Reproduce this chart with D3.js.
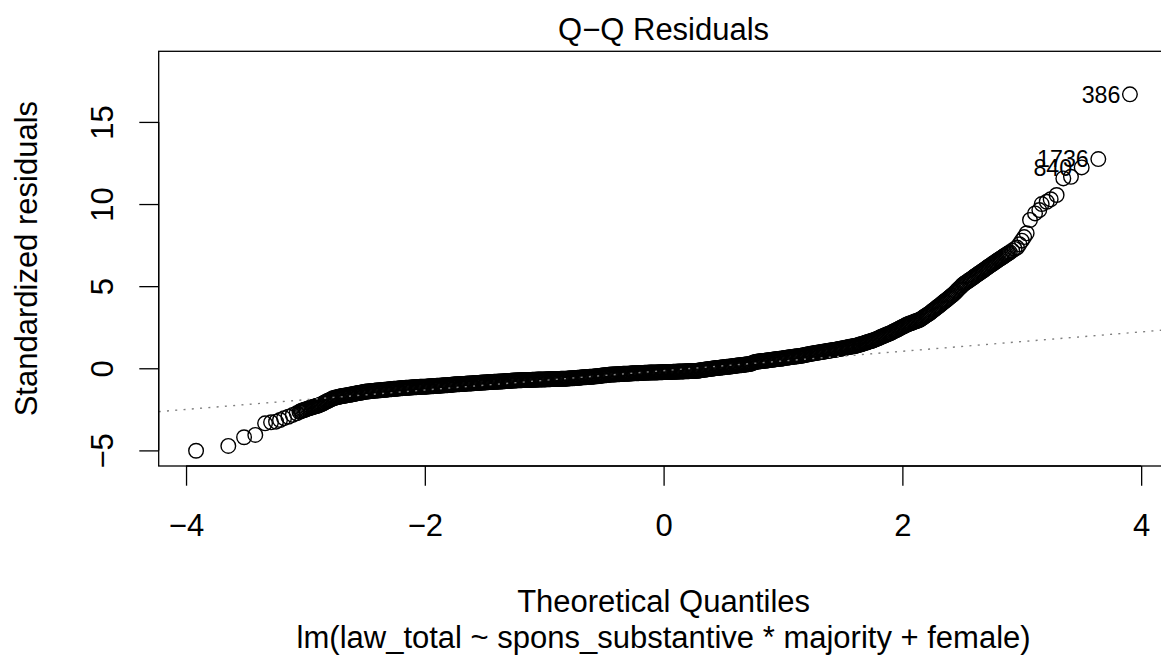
<!DOCTYPE html>
<html><head><meta charset="utf-8">
<script src="https://cdn.jsdelivr.net/npm/d3@7"></script>
<style>
body{margin:0;background:#fff}
svg{display:block;background:#fff}
text{font-family:"Liberation Sans",Arial,Helvetica,sans-serif;fill:#000}
</style>
</head><body>
<svg id="chart" width="1161" height="659"></svg>
<script>
// ---- data ----
const lowerTailX = [-3.916,-3.646,-3.514,-3.420,-3.338,-3.288,-3.246,-3.213,-3.179,-3.143,-3.106,-3.073];
const lowerTailY = [-5.02,-4.73,-4.20,-4.06,-3.35,-3.29,-3.25,-3.15,-3.04,-2.95,-2.84,-2.74];

const bandX = [
-3.05,-3.04,-3.03,-3.02,-3.01,-3.00,-2.99,-2.98,-2.97,-2.96,-2.95,-2.94,-2.93,-2.92,-2.91,-2.90,-2.89,-2.88,-2.87,-2.86,
-2.85,-2.84,-2.83,-2.82,-2.81,-2.80,-2.79,-2.78,-2.77,-2.76,-2.75,-2.74,-2.73,-2.72,-2.71,-2.70,-2.69,-2.68,-2.67,-2.66,
-2.65,-2.64,-2.63,-2.62,-2.61,-2.60,-2.59,-2.58,-2.57,-2.56,-2.55,-2.54,-2.53,-2.52,-2.51,-2.50,-2.49,-2.48,-2.47,-2.46,
-2.45,-2.44,-2.43,-2.42,-2.41,-2.40,-2.39,-2.38,-2.37,-2.36,-2.35,-2.34,-2.33,-2.32,-2.31,-2.30,-2.29,-2.28,-2.27,-2.26,
-2.25,-2.24,-2.23,-2.22,-2.21,-2.20,-2.19,-2.18,-2.17,-2.16,-2.15,-2.14,-2.13,-2.12,-2.11,-2.10,-2.09,-2.08,-2.07,-2.06,
-2.05,-2.04,-2.03,-2.02,-2.01,-2.00,-1.99,-1.98,-1.97,-1.96,-1.95,-1.94,-1.93,-1.92,-1.91,-1.90,-1.89,-1.88,-1.87,-1.86,
-1.85,-1.84,-1.83,-1.82,-1.81,-1.80,-1.79,-1.78,-1.77,-1.76,-1.75,-1.74,-1.73,-1.72,-1.71,-1.70,-1.69,-1.68,-1.67,-1.66,
-1.65,-1.64,-1.63,-1.62,-1.61,-1.60,-1.59,-1.58,-1.57,-1.56,-1.55,-1.54,-1.53,-1.52,-1.51,-1.50,-1.49,-1.48,-1.47,-1.46,
-1.45,-1.44,-1.43,-1.42,-1.41,-1.40,-1.39,-1.38,-1.37,-1.36,-1.35,-1.34,-1.33,-1.32,-1.31,-1.30,-1.29,-1.28,-1.27,-1.26,
-1.25,-1.24,-1.23,-1.22,-1.21,-1.20,-1.19,-1.18,-1.17,-1.16,-1.15,-1.14,-1.13,-1.12,-1.11,-1.10,-1.09,-1.08,-1.07,-1.06,
-1.05,-1.04,-1.03,-1.02,-1.01,-1.00,-0.99,-0.98,-0.97,-0.96,-0.95,-0.94,-0.93,-0.92,-0.91,-0.90,-0.89,-0.88,-0.87,-0.86,
-0.85,-0.84,-0.83,-0.82,-0.81,-0.80,-0.79,-0.78,-0.77,-0.76,-0.75,-0.74,-0.73,-0.72,-0.71,-0.70,-0.69,-0.68,-0.67,-0.66,
-0.65,-0.64,-0.63,-0.62,-0.61,-0.60,-0.59,-0.58,-0.57,-0.56,-0.55,-0.54,-0.53,-0.52,-0.51,-0.50,-0.49,-0.48,-0.47,-0.46,
-0.45,-0.44,-0.43,-0.42,-0.41,-0.40,-0.39,-0.38,-0.37,-0.36,-0.35,-0.34,-0.33,-0.32,-0.31,-0.30,-0.29,-0.28,-0.27,-0.26,
-0.25,-0.24,-0.23,-0.22,-0.21,-0.20,-0.19,-0.18,-0.17,-0.16,-0.15,-0.14,-0.13,-0.12,-0.11,-0.10,-0.09,-0.08,-0.07,-0.06,
-0.05,-0.04,-0.03,-0.02,-0.01,0.00,0.01,0.02,0.03,0.04,0.05,0.06,0.07,0.08,0.09,0.10,0.11,0.12,0.13,0.14,
0.15,0.16,0.17,0.18,0.19,0.20,0.21,0.22,0.23,0.24,0.25,0.26,0.27,0.28,0.29,0.30,0.31,0.32,0.33,0.34,
0.35,0.36,0.37,0.38,0.39,0.40,0.41,0.42,0.43,0.44,0.45,0.46,0.47,0.48,0.49,0.50,0.51,0.52,0.53,0.54,
0.55,0.56,0.57,0.58,0.59,0.60,0.61,0.62,0.63,0.64,0.65,0.66,0.67,0.68,0.69,0.70,0.71,0.72,0.73,0.74,
0.75,0.76,0.77,0.78,0.79,0.80,0.81,0.82,0.83,0.84,0.85,0.86,0.87,0.88,0.89,0.90,0.91,0.92,0.93,0.94,
0.95,0.96,0.97,0.98,0.99,1.00,1.01,1.02,1.03,1.04,1.05,1.06,1.07,1.08,1.09,1.10,1.11,1.12,1.13,1.14,
1.15,1.16,1.17,1.18,1.19,1.20,1.21,1.22,1.23,1.24,1.25,1.26,1.27,1.28,1.29,1.30,1.31,1.32,1.33,1.34,
1.35,1.36,1.37,1.38,1.39,1.40,1.41,1.42,1.43,1.44,1.45,1.46,1.47,1.48,1.49,1.50,1.51,1.52,1.53,1.54,
1.55,1.56,1.57,1.58,1.59,1.60,1.61,1.62,1.63,1.64,1.65,1.66,1.67,1.68,1.69,1.70,1.71,1.72,1.73,1.74,
1.75,1.76,1.77,1.78,1.79,1.80,1.81,1.82,1.83,1.84,1.85,1.86,1.87,1.88,1.89,1.90,1.91,1.92,1.93,1.94,
1.95,1.96,1.97,1.98,1.99,
2.00,2.01,2.02,2.03,2.04,2.05,2.06,2.07,2.08,2.09,
2.10,2.11,2.12,2.13,2.14,2.15,2.16,2.17,2.18,2.19,
2.20,2.21,2.22,2.23,2.24,2.25,2.26,2.27,2.28,2.29,
2.30,2.31,2.32,2.33,2.34,2.35,2.36,2.37,2.38,2.39,
2.40,2.41,2.42,2.43,2.44,2.45,2.46,2.47,2.48,2.49,
2.50,2.51,2.52,2.53,2.54,2.55,2.56,2.57,2.58,2.59,
2.60,2.61,2.62,2.63,2.64,2.65,2.66,2.67,2.68,2.69,
2.70,2.71,2.72,2.73,2.74,2.75,2.76,2.77,2.78,2.79,
2.80,2.81,2.82,2.83,2.84,2.85,2.86,2.87,2.88,2.89,
2.90,2.92,2.94,2.96,2.98,3.00,3.02
];
const bandY = [
-2.65,-2.62,-2.59,-2.56,-2.54,-2.51,-2.49,-2.46,-2.44,-2.41,-2.39,-2.37,-2.35,-2.32,-2.30,-2.28,-2.26,-2.23,-2.20,-2.17,
-2.13,-2.09,-2.05,-2.01,-1.98,-1.94,-1.91,-1.87,-1.83,-1.81,-1.79,-1.77,-1.76,-1.74,-1.72,-1.70,-1.69,-1.68,-1.67,-1.65,
-1.64,-1.62,-1.61,-1.60,-1.59,-1.57,-1.56,-1.54,-1.53,-1.51,-1.50,-1.49,-1.48,-1.46,-1.45,-1.43,-1.42,-1.41,-1.41,-1.40,
-1.39,-1.38,-1.38,-1.37,-1.36,-1.35,-1.35,-1.34,-1.34,-1.33,-1.32,-1.31,-1.31,-1.30,-1.29,-1.28,-1.28,-1.27,-1.26,-1.25,
-1.25,-1.24,-1.24,-1.23,-1.22,-1.21,-1.21,-1.20,-1.20,-1.19,-1.19,-1.18,-1.18,-1.17,-1.17,-1.16,-1.16,-1.15,-1.15,-1.14,
-1.14,-1.13,-1.13,-1.13,-1.13,-1.12,-1.12,-1.11,-1.11,-1.10,-1.10,-1.09,-1.09,-1.08,-1.08,-1.07,-1.07,-1.06,-1.06,-1.05,
-1.05,-1.04,-1.04,-1.03,-1.03,-1.02,-1.02,-1.01,-1.00,-0.99,-0.99,-0.98,-0.98,-0.97,-0.97,-0.96,-0.96,-0.95,-0.95,-0.94,
-0.94,-0.93,-0.93,-0.92,-0.92,-0.91,-0.91,-0.90,-0.90,-0.89,-0.89,-0.88,-0.88,-0.87,-0.87,-0.86,-0.86,-0.85,-0.85,-0.84,
-0.84,-0.83,-0.83,-0.82,-0.82,-0.82,-0.82,-0.81,-0.81,-0.80,-0.80,-0.79,-0.79,-0.78,-0.78,-0.77,-0.77,-0.76,-0.76,-0.75,
-0.75,-0.74,-0.74,-0.73,-0.73,-0.73,-0.73,-0.72,-0.72,-0.72,-0.72,-0.71,-0.71,-0.71,-0.71,-0.70,-0.70,-0.70,-0.70,-0.69,
-0.69,-0.69,-0.69,-0.68,-0.68,-0.68,-0.68,-0.67,-0.67,-0.67,-0.67,-0.66,-0.66,-0.66,-0.66,-0.65,-0.65,-0.65,-0.65,-0.64,
-0.64,-0.64,-0.64,-0.63,-0.63,-0.62,-0.62,-0.61,-0.61,-0.60,-0.60,-0.59,-0.59,-0.58,-0.58,-0.57,-0.56,-0.55,-0.55,-0.54,
-0.54,-0.53,-0.53,-0.52,-0.52,-0.51,-0.51,-0.50,-0.49,-0.48,-0.48,-0.47,-0.46,-0.45,-0.44,-0.43,-0.43,-0.42,-0.41,-0.40,
-0.39,-0.38,-0.38,-0.38,-0.38,-0.37,-0.37,-0.36,-0.36,-0.35,-0.35,-0.34,-0.34,-0.34,-0.34,-0.33,-0.33,-0.32,-0.32,-0.31,
-0.31,-0.30,-0.30,-0.30,-0.30,-0.29,-0.29,-0.28,-0.28,-0.27,-0.27,-0.27,-0.27,-0.26,-0.26,-0.26,-0.26,-0.25,-0.25,-0.25,
-0.25,-0.24,-0.24,-0.24,-0.24,-0.23,-0.23,-0.23,-0.23,-0.22,-0.22,-0.22,-0.22,-0.21,-0.21,-0.21,-0.21,-0.20,-0.20,-0.20,
-0.20,-0.19,-0.19,-0.18,-0.18,-0.18,-0.18,-0.17,-0.17,-0.17,-0.17,-0.16,-0.16,-0.15,-0.15,-0.13,-0.12,-0.11,-0.10,-0.09,
-0.08,-0.07,-0.06,-0.05,-0.04,-0.03,-0.02,-0.01,0.00,0.01,0.01,0.02,0.03,0.04,0.05,0.06,0.07,0.08,0.09,0.09,
0.10,0.11,0.12,0.13,0.14,0.15,0.16,0.17,0.18,0.18,0.19,0.20,0.21,0.22,0.23,0.24,0.25,0.26,0.27,0.30,
0.33,0.36,0.38,0.40,0.41,0.42,0.43,0.44,0.45,0.45,0.46,0.47,0.48,0.49,0.50,0.51,0.52,0.53,0.54,0.55,
0.56,0.57,0.58,0.58,0.59,0.60,0.62,0.63,0.64,0.65,0.66,0.67,0.68,0.69,0.70,0.71,0.72,0.73,0.74,0.75,
0.76,0.77,0.79,0.80,0.82,0.83,0.85,0.86,0.88,0.89,0.90,0.91,0.93,0.94,0.95,0.96,0.98,0.99,1.00,1.01,
1.02,1.03,1.05,1.06,1.07,1.08,1.10,1.11,1.12,1.13,1.15,1.16,1.18,1.19,1.20,1.21,1.23,1.24,1.26,1.27,
1.29,1.30,1.32,1.33,1.34,1.35,1.37,1.39,1.41,1.43,1.46,1.48,1.50,1.52,1.55,1.57,1.60,1.62,1.64,1.66,
1.69,1.71,1.74,1.77,1.80,1.83,1.87,1.90,1.93,1.96,1.99,2.02,2.05,2.08,2.11,2.14,2.18,2.22,2.26,2.29,
2.33,2.36,2.40,2.44,2.48,
2.52,2.55,2.59,2.63,2.66,2.69,2.72,2.74,2.77,2.80,
2.83,2.86,2.88,2.91,2.94,2.97,3.02,3.07,3.12,3.17,
3.22,3.27,3.31,3.36,3.42,3.48,3.54,3.59,3.65,3.71,
3.76,3.82,3.88,3.94,4.00,4.06,4.11,4.17,4.23,4.29,
4.35,4.41,4.46,4.53,4.60,4.67,4.75,4.82,4.89,4.96,
5.04,5.11,5.16,5.21,5.26,5.31,5.36,5.41,5.46,5.51,
5.57,5.62,5.67,5.72,5.77,5.82,5.87,5.92,5.97,6.02,
6.08,6.13,6.18,6.23,6.28,6.33,6.38,6.43,6.48,6.53,
6.58,6.63,6.68,6.72,6.77,6.82,6.87,6.92,6.97,7.01,
7.06,7.16,7.27,7.35,7.55,7.77,7.99
];

const upperTailX = [3.041,3.069,3.111,3.147,3.167,3.209,3.242,3.292,3.348,3.412,3.502,3.641,3.906];
const upperTailY = [8.22,9.03,9.43,9.63,10.00,10.14,10.29,10.55,11.56,11.66,12.23,12.74,16.68];

// ids of the three largest standardized residuals (largest first)
const extremeIds = ["386","1736","840"];

const xTicks = [-4,-2,0,2,4];
const yTicks = [-5,0,5,10,15];
const qqLineIntercept = -0.145;
const qqLineSlope = 0.59;

const mainTitle = "Q\u2212Q Residuals";
const xTitle = "Theoretical Quantiles";
const subTitle = "lm(law_total ~ spons_substantive * majority + female)";
const yTitle = "Standardized residuals";

// ---- drawing ----
const FS = 31;
const svg = d3.select("#chart");
const x = d3.scaleLinear().domain([-4.229, 4.229]).range([158.7, 1168.5]);
const y = d3.scaleLinear().domain([-5.95, 19.3]).range([466, 51.3]);

const pts = [];
lowerTailX.forEach((v,i)=>pts.push({x:v,y:lowerTailY[i]}));
bandX.forEach((v,i)=>pts.push({x:v,y:bandY[i]}));
upperTailX.forEach((v,i)=>pts.push({x:v,y:upperTailY[i]}));

svg.append("defs").append("clipPath").attr("id","plotclip")
  .append("rect").attr("x",x.range()[0]).attr("y",y.range()[1])
  .attr("width",x.range()[1]-x.range()[0]).attr("height",y.range()[0]-y.range()[1]);

// points
svg.append("g").attr("clip-path","url(#plotclip)")
  .selectAll("circle").data(pts).join("circle")
  .attr("cx",d=>x(d.x)).attr("cy",d=>y(d.y)).attr("r",7.3)
  .attr("fill","none").attr("stroke","#000").attr("stroke-width",1.4);

// reference line (dotted, grey)
const xd = x.domain();
svg.append("line").attr("clip-path","url(#plotclip)")
  .attr("x1",x(xd[0])).attr("y1",y(qqLineIntercept+qqLineSlope*xd[0]))
  .attr("x2",x(xd[1])).attr("y2",y(qqLineIntercept+qqLineSlope*xd[1]))
  .attr("stroke","#7f7f7f").attr("stroke-width",1.4).attr("stroke-dasharray","2,6.3");

// labels for the three extreme points
const sorted = pts.slice().sort((a,b)=>b.y-a.y).slice(0,extremeIds.length);
svg.append("g").selectAll("text").data(sorted).join("text")
  .attr("x",d=>x(d.x)-9.5).attr("y",d=>y(d.y)).attr("dy","0.36em")
  .attr("text-anchor","end").style("font-size",(FS*0.75)+"px")
  .text((d,i)=>extremeIds[i]);

// box
svg.append("rect").attr("x",x.range()[0]).attr("y",y.range()[1])
  .attr("width",x.range()[1]-x.range()[0]).attr("height",y.range()[0]-y.range()[1])
  .attr("fill","none").attr("stroke","#000").attr("stroke-width",1.3);

// x axis
const gx = svg.append("g").attr("transform",`translate(0,${y.range()[0]})`)
  .call(d3.axisBottom(x).tickValues(xTicks).tickSize(19.7).tickSizeOuter(0)
    .tickFormat(d=>d<0?"\u2212"+Math.abs(d):String(d)));
gx.select(".domain").attr("d",`M${x(xTicks[0])},0H${x(xTicks[xTicks.length-1])}`).attr("stroke-width",1.3);
gx.selectAll(".tick line").attr("stroke-width",1.3);
gx.selectAll(".tick text").attr("y",70).attr("dy",0).style("font-size",FS+"px")
  .attr("font-family",null);

// y axis
const gy = svg.append("g").attr("transform",`translate(${x.range()[0]},0)`)
  .call(d3.axisLeft(y).tickValues(yTicks).tickSize(19.4).tickSizeOuter(0)
    .tickFormat(d=>d<0?"\u2212"+Math.abs(d):String(d)));
gy.select(".domain").attr("d",`M0,${y(yTicks[0])}V${y(yTicks[yTicks.length-1])}`).attr("stroke-width",1.3);
gy.selectAll(".tick line").attr("stroke-width",1.3);
gy.selectAll(".tick text").attr("transform","rotate(-90)").attr("x",0).attr("y",-45.4)
  .attr("dy",0).attr("text-anchor","middle").style("font-size",FS+"px").attr("font-family",null);

// titles
const cx = (x.range()[0]+x.range()[1])/2;
svg.append("text").attr("x",cx).attr("y",40).attr("text-anchor","middle")
  .style("font-size",FS+"px").text(mainTitle);
svg.append("text").attr("x",cx).attr("y",611.7).attr("text-anchor","middle")
  .style("font-size",FS+"px").text(xTitle);
svg.append("text").attr("x",cx).attr("y",648.3).attr("text-anchor","middle")
  .style("font-size",FS+"px").text(subTitle);
svg.append("text").attr("transform",`translate(36.5,${(y.range()[0]+y.range()[1])/2}) rotate(-90)`)
  .attr("text-anchor","middle").style("font-size",FS+"px").text(yTitle);
</script>
</body></html>
